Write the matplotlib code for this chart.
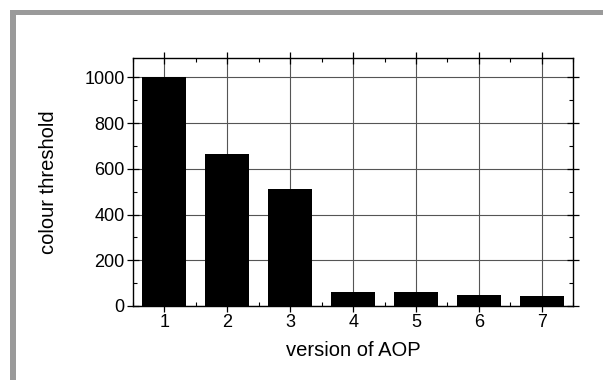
import matplotlib
matplotlib.use("Agg")
import matplotlib.pyplot as plt
from matplotlib.patches import Rectangle
from matplotlib.ticker import MultipleLocator

versions = [1, 2, 3, 4, 5, 6, 7]
thresholds = [1000, 663, 512, 60, 61, 48, 44]
xlabel = "version of AOP"
ylabel = "colour threshold"

plt.rcParams['font.family'] = ['Liberation Sans', 'DejaVu Sans']

W, H = 603, 380
fig = plt.figure(figsize=(W / 100, H / 100), dpi=100)
fig.patch.set_facecolor('white')

# grey frame on top and left
fig.add_artist(Rectangle((10 / W, 1 - 15 / H), 1 - 10 / W, 5 / H, transform=fig.transFigure,
                         facecolor='#9a9a9a', edgecolor='none'))
fig.add_artist(Rectangle((10 / W, 0), 6 / W, 1 - 10 / H, transform=fig.transFigure,
                         facecolor='#9a9a9a', edgecolor='none'))

ax_w = (573.3 - 133)
ax_h = (306 - 58)
ax = fig.add_axes([133 / W, 1 - 306 / H, ax_w / W, ax_h / H])
ax.set_axisbelow(True)
ax.grid(True, which='major', color='#555555', linewidth=0.8)
ax.bar(versions, thresholds, width=0.7, color='black', zorder=3)

ax.set_xlim(0.5, 7.5)
ax.set_ylim(0, 1085)
ax.set_xticks(versions)
ax.yaxis.set_major_locator(MultipleLocator(200))
ax.yaxis.set_minor_locator(MultipleLocator(100))
ax.xaxis.set_minor_locator(MultipleLocator(0.5))

for s in ax.spines.values():
    s.set_linewidth(1.0)
    s.set_color('black')

ax.tick_params(which='major', direction='inout', length=8, width=0.9,
               top=True, right=True, labelsize=13, colors='black', pad=2)
ax.tick_params(which='minor', direction='in', length=3, width=0.8, top=True, right=True)

ax.set_xlabel(xlabel, fontsize=14.5)
ax.set_ylabel(ylabel, fontsize=14.5)
ax.xaxis.set_label_coords(0.5, (306 - 350) / ax_h, transform=ax.transAxes)
ax.xaxis.label.set_va('center')
ax.yaxis.set_label_coords((48 - 133) / ax_w, 0.5, transform=ax.transAxes)
ax.yaxis.label.set_va('center')

fig.savefig("out.png", dpi=100, facecolor='white')
